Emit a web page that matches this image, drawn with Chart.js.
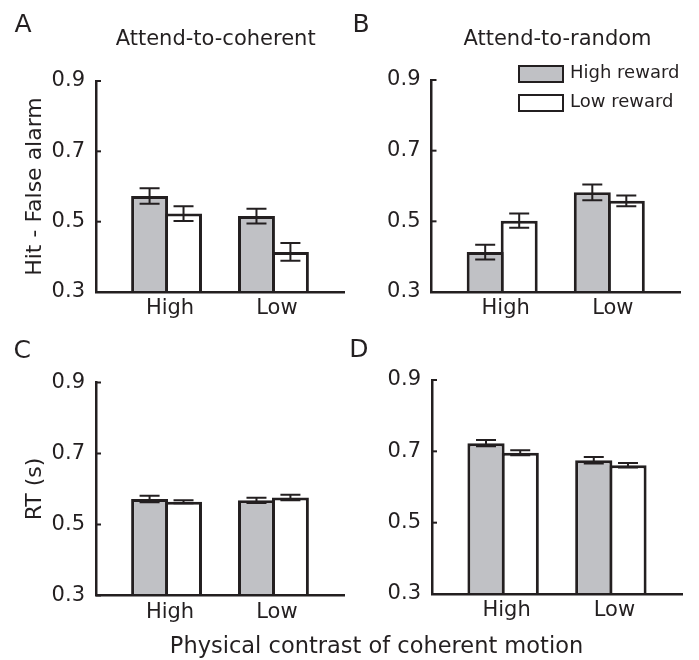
<!DOCTYPE html>
<html><head><meta charset="utf-8">
<script src="https://cdn.jsdelivr.net/npm/chart.js@4.4.1/dist/chart.umd.min.js"></script>
<style>
html,body{margin:0;padding:0;background:#fff;}
#wrap{position:relative;width:699px;height:660px;overflow:hidden;font-family:"DejaVu Sans",sans-serif;color:#231f20;background:#fff;}
canvas{position:absolute;left:0;top:0;}
.t{position:absolute;white-space:nowrap;line-height:1;}
.c{text-align:center;}
.box{position:absolute;box-sizing:border-box;border:2px solid #231f20;width:46px;height:18px;}
</style></head><body>
<div id="wrap">
<canvas id="cA" width="699" height="660" style="width:699px;height:660px"></canvas>
<canvas id="cB" width="699" height="660" style="width:699px;height:660px"></canvas>
<canvas id="cC" width="699" height="660" style="width:699px;height:660px"></canvas>
<canvas id="cD" width="699" height="660" style="width:699px;height:660px"></canvas>
<div class="t" style="left:14.5px;top:10.6px;font-size:25px">A</div>
<div class="t" style="left:352.5px;top:10.6px;font-size:25px">B</div>
<div class="t" style="left:13.6px;top:337px;font-size:25px">C</div>
<div class="t" style="left:349.2px;top:336px;font-size:25px">D</div>
<div class="t c" style="left:15.7px;width:400px;top:27.9px;font-size:21px">Attend-to-coherent</div>
<div class="t c" style="left:357.5px;width:400px;top:27.9px;font-size:21px">Attend-to-random</div>
<div class="box" style="left:518px;top:65px;background:#c0c1c5"></div>
<div class="box" style="left:518px;top:94px;background:#ffffff"></div>
<div class="t" id="lg1" style="left:570px;top:63.1px;font-size:18px"></div>
<div class="t" id="lg2" style="left:570px;top:92.1px;font-size:18px"></div>
<div class="t c" style="left:76.5px;width:600px;top:634.3px;font-size:22.5px">Physical contrast of coherent motion</div>
</div>
<script>
// ---------- data ----------
const categories = ['High', 'Low'];          // physical contrast of coherent motion
const seriesNames = ['High reward', 'Low reward'];
const yTickValues = [0.3, 0.5, 0.7, 0.9];

// A: Hit - False alarm, attend-to-coherent
const hitCoherentHighReward = [0.573, 0.516];
const hitCoherentLowReward  = [0.523, 0.414];
const hitCoherentHighErr    = [0.022, 0.021];
const hitCoherentLowErr     = [0.021, 0.025];
// B: Hit - False alarm, attend-to-random
const hitRandomHighReward = [0.413, 0.582];
const hitRandomLowReward  = [0.502, 0.558];
const hitRandomHighErr    = [0.021, 0.022];
const hitRandomLowErr     = [0.020, 0.015];
// C: RT (s), attend-to-coherent
const rtCoherentHighReward = [0.572, 0.568];
const rtCoherentLowReward  = [0.564, 0.576];
const rtCoherentHighErr    = [0.009, 0.0075];
const rtCoherentLowErr     = [0.004, 0.008];
// D: RT (s), attend-to-random
const rtRandomHighReward = [0.723, 0.675];
const rtRandomLowReward  = [0.696, 0.661];
const rtRandomHighErr    = [0.009, 0.009];
const rtRandomLowErr     = [0.007, 0.006];

// ---------- styling / layout ----------
const INK = '#231f20';
const GRAY = '#c0c1c5';
const FONT = '"DejaVu Sans", sans-serif';
const W = 699, H = 660, YW = 74, XH = 40;

document.getElementById('lg1').textContent = seriesNames[0];
document.getElementById('lg2').textContent = seriesNames[1];

const errorBarPlugin = {
  id: 'errorBars',
  afterDatasetsDraw(chart) {
    const ctx = chart.ctx, ys = chart.scales.y;
    ctx.save();
    ctx.strokeStyle = INK;
    ctx.lineWidth = 2;
    chart.data.datasets.forEach((ds, i) => {
      const meta = chart.getDatasetMeta(i);
      meta.data.forEach((el, j) => {
        const v = ds.data[j].y, e = ds.errors[j];
        const yt = ys.getPixelForValue(v + e), yb = ys.getPixelForValue(v - e);
        const x = el.x, hw = 10;
        ctx.beginPath();
        ctx.moveTo(x, yt); ctx.lineTo(x, yb);
        ctx.moveTo(x - hw, yt); ctx.lineTo(x + hw, yt);
        ctx.moveTo(x - hw, yb); ctx.lineTo(x + hw, yb);
        ctx.stroke();
      });
    });
    ctx.restore();
  }
};

const inwardTicks = {
  id: 'inwardTicks',
  afterDraw(chart) {
    const ctx = chart.ctx, ys = chart.scales.y, a = chart.chartArea;
    ctx.save();
    ctx.strokeStyle = INK; ctx.lineWidth = 2;
    ys.ticks.forEach(t => {
      const py = ys.getPixelForValue(t.value);
      ctx.beginPath(); ctx.moveTo(a.left, py); ctx.lineTo(a.left + 5, py); ctx.stroke();
    });
    ctx.restore();
  }
};

function makePanel(id, box, highVals, lowVals, highErr, lowErr, yTitle) {
  const toPts = vals => categories.map((c, i) => ({ x: i + 1, y: vals[i] }));
  const common = { borderColor: INK, borderWidth: 3, borderSkipped: 'start',
                   categoryPercentage: 0.635, barPercentage: 1.088 };
  new Chart(document.getElementById(id), {
    type: 'bar',
    data: {
      datasets: [
        Object.assign({ label: seriesNames[0], data: toPts(highVals), errors: highErr, backgroundColor: GRAY }, common),
        Object.assign({ label: seriesNames[1], data: toPts(lowVals), errors: lowErr, backgroundColor: '#ffffff' }, common)
      ]
    },
    options: {
      responsive: false, animation: false, events: [],
      layout: { padding: { left: box.left - YW, top: box.top, right: W - box.right, bottom: H - box.bottom - XH } },
      plugins: { legend: { display: false }, tooltip: { enabled: false } },
      scales: {
        x: {
          type: 'linear', min: 0.34, max: 2.66, offset: false,
          grid: { display: false, drawTicks: false, tickLength: 0 },
          border: { display: true, width: 2.5, color: INK, z: 1 },
          ticks: { font: { family: FONT, size: 21 }, color: INK, padding: 4, labelOffset: 3.5,
                   callback: v => categories[Math.round(v) - 1] || '' },
          afterBuildTicks: s => { s.ticks = categories.map((c, i) => ({ value: i + 1 })); },
          afterFit: s => { s.height = XH; }
        },
        y: {
          type: 'linear', min: yTickValues[0], max: yTickValues[yTickValues.length - 1],
          grid: { display: false, drawTicks: false, tickLength: 0 },
          border: { display: true, width: 2.5, color: INK, z: 1 },
          ticks: { font: { family: FONT, size: 21 }, color: INK, padding: 11,
                   callback: v => Number(v).toFixed(1) },
          afterBuildTicks: s => { s.ticks = yTickValues.map(v => ({ value: v })); },
          afterFit: s => { s.width = YW; },
          title: { display: !!yTitle, text: yTitle, font: { family: FONT, size: 22 }, color: INK, padding: 0 }
        }
      }
    },
    plugins: [errorBarPlugin, inwardTicks]
  });
}

makePanel('cA', { left: 96, right: 344, top: 81, bottom: 292 },
  hitCoherentHighReward, hitCoherentLowReward, hitCoherentHighErr, hitCoherentLowErr, 'Hit - False alarm');
makePanel('cB', { left: 431.5, right: 680, top: 80, bottom: 292 },
  hitRandomHighReward, hitRandomLowReward, hitRandomHighErr, hitRandomLowErr, '');
makePanel('cC', { left: 96, right: 344, top: 382.5, bottom: 595.5 },
  rtCoherentHighReward, rtCoherentLowReward, rtCoherentHighErr, rtCoherentLowErr, 'RT (s)');
makePanel('cD', { left: 432, right: 682, top: 380, bottom: 594 },
  rtRandomHighReward, rtRandomLowReward, rtRandomHighErr, rtRandomLowErr, '');
</script>
</body></html>
